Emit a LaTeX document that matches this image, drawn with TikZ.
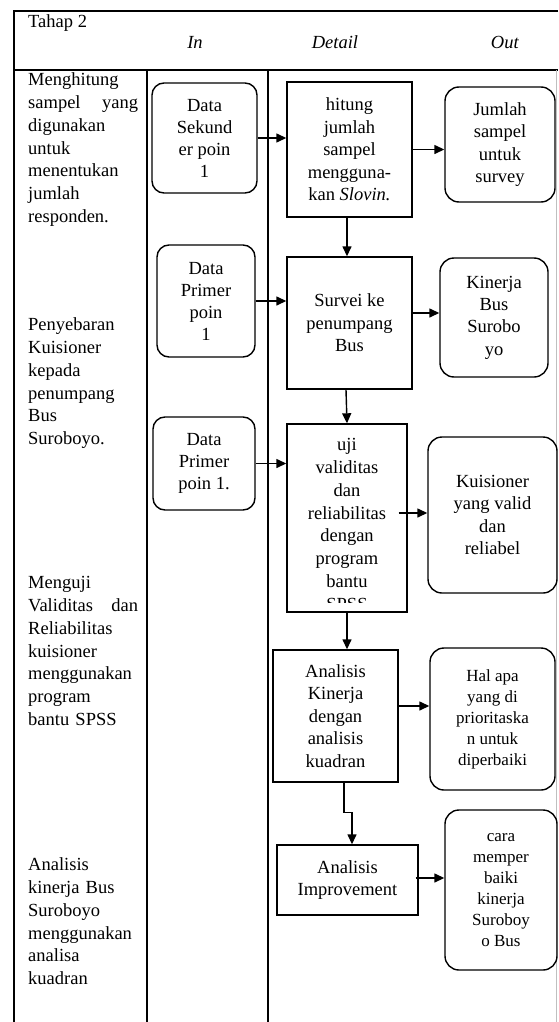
\documentclass[tikz,border=0pt]{standalone}
\usepackage{fontspec}
\setmainfont{Liberation Serif}
\usetikzlibrary{arrows.meta,calc}
\begin{document}
\begin{tikzpicture}[x=1pt,y=-1pt,
  every node/.style={inner sep=0pt},
  grid/.style={line width=1.6pt},
  txt/.style={font=\fontsize{18.5}{22.8}\selectfont},
  sidetxt/.style={txt,anchor=north west,text width=110pt,align=left},
  inbox/.style={draw,line width=1.4pt,rounded corners=12pt,align=center,font=\fontsize{18.5}{22}\selectfont},
  detbox/.style={draw,line width=1.4pt,align=center,font=\fontsize{18.5}{22.6}\selectfont},
  outbox/.style={draw,line width=1.4pt,rounded corners=14pt,align=center,font=\fontsize{18.5}{22.3}\selectfont},
  smallout/.style={outbox,font=\fontsize{17}{21}\selectfont},
  arr/.style={line width=1.4pt,-{Triangle[length=10pt,width=9pt]}}
]
\useasboundingbox (0,0) rectangle (558,1022);
% table
\draw[grid] (558,11) -- (14,11) -- (14,1022);
\draw[grid] (14,70) -- (558,70);
\draw[grid] (147,70) -- (147,1022);
\draw[grid] (268,70) -- (268,1022);
\draw[line width=0.8pt,black!25] (556,70) -- (556,1022);
% header
\node[txt,anchor=base west] (h0) at (28,27.5) {Tahap 2};
\node[txt] (h1) at (195,42) {\textit{In}};
\node[txt] (h2) at (335,42) {\textit{Detail}};
\node[txt] (h3) at (505,42) {\textit{Out}};
% left column
\node[sidetxt] (s1) at (28,69.5) {\strut Menghitung\\sampel\hfill yang\\digunakan\\untuk\\menentukan\\jumlah\\responden.};
\node[sidetxt] (s2) at (28,314.5) {\strut Penyebaran\\Kuisioner\\kepada\\penumpang\\Bus\\Suroboyo.};
\node[sidetxt] (s3) at (28,572.5) {\strut Menguji\\Validitas\hfill dan\\Reliabilitas\\kuisioner\\menggunakan\\program\\bantu SPSS};
\node[sidetxt] (s4) at (28,854.5) {\strut Analisis\\kinerja Bus\\Suroboyo\\menggunakan\\analisa\\kuadran};
% In boxes
\node[inbox,minimum width=105pt,minimum height=110pt] (i1) at (204.5,138) {Data\\Sekund\\er poin\\1};
\node[inbox,minimum width=98pt,minimum height=112pt] (i2) at (206,301) {Data\\Primer\\poin\\1};
\node[inbox,minimum width=102pt,minimum height=93pt] (i3) at (204,463.5) {Data\\Primer\\poin 1.};
% Detail boxes
\node[detbox,minimum width=125pt,minimum height=135pt] (d1) at (349.5,149.5) {hitung\\jumlah\\sampel\\mengguna-\\kan \textit{Slovin.}};
\node[detbox,minimum width=125pt,minimum height=132pt] (d2) at (349.5,323) {Survei ke\\penumpang\\Bus};
\node[detbox,minimum width=120pt,minimum height=188pt] (d3) at (347,518) {};
\begin{scope}
\clip (288,425) rectangle (406,602);
\node[txt,align=center] (t3) at (347,524.5) {uji\\validitas\\dan\\reliabilitas\\dengan\\program\\bantu\\SPSS};
\end{scope}
\node[detbox,minimum width=125pt,minimum height=132pt] (d4) at (335.5,716) {Analisis\\Kinerja\\dengan\\analisis\\kuadran};
\node[detbox,minimum width=141pt,minimum height=70pt] (d5) at (347.5,880) {Analisis\\Improvement};
% Out boxes
\node[outbox,minimum width=110pt,minimum height=115pt] (o1) at (500,144.5) {Jumlah\\sampel\\untuk\\survey};
\node[outbox,minimum width=108pt,minimum height=119pt] (o2) at (494,317.5) {Kinerja\\Bus\\Surobo\\yo};
\node[outbox,minimum width=129pt,minimum height=156pt] (o3) at (492.5,515) {Kuisioner\\yang valid\\dan\\reliabel};
\node[smallout,minimum width=125pt,minimum height=142pt] (o4) at (492.5,719) {Hal apa\\yang di\\prioritaska\\n untuk\\diperbaiki};
\node[smallout,minimum width=112pt,minimum height=160pt] (o5) at (501,890) {cara\\memper\\baiki\\kinerja\\Suroboy\\o Bus};
% In -> Detail
\draw[arr] (i1.east) -- (i1.east -| d1.west);
\draw[arr] (i2.east) -- (i2.east -| d2.west);
\draw[arr] (i3.east) -- (i3.east -| d3.west);
% Detail chain
\draw[arr] ([xshift=-2.5pt]d1.south) -- ([xshift=-2.5pt]d2.north);
\draw[arr] ([xshift=-3.5pt]d2.south) -- (d3.north);
\draw[arr] (d3.south) -- (d3.south |- d4.north);
\draw[arr] ([xshift=8.5pt]d4.south) -- ++(0,30) -| ([xshift=4.5pt]d5.north);
% Detail -> Out
\draw[arr] (d1.east) -- (d1.east -| o1.west);
\draw[arr] ([yshift=10pt]d2.east) -- ([yshift=10pt]d2.east -| o2.west);
\draw[arr] ([xshift=-9pt,yshift=5pt]d3.east) -- ([yshift=5pt]d3.east -| o3.west);
\draw[arr] ([yshift=10pt]d4.east) -- ([yshift=10pt]d4.east -| o4.west);
\draw[arr] ([xshift=-3pt,yshift=2pt]d5.east) -- ([yshift=2pt]d5.east -| o5.west);
\end{tikzpicture}
\end{document}
